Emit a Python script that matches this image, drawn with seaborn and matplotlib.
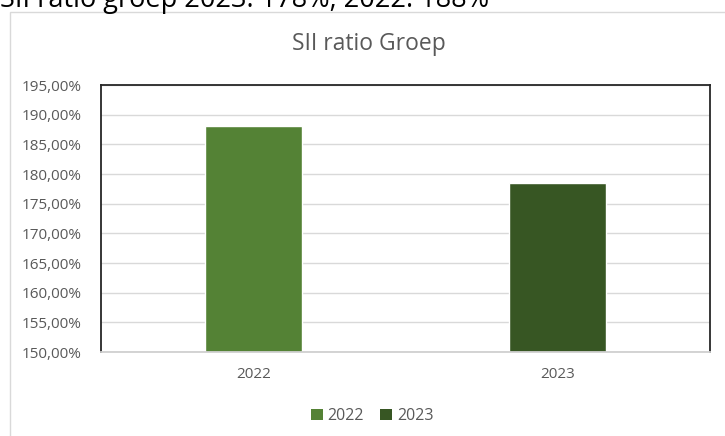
import matplotlib
matplotlib.use("Agg")
import matplotlib.pyplot as plt
import seaborn as sns
import pandas as pd
from matplotlib.patches import Rectangle, Patch
from matplotlib.ticker import FuncFormatter

years = ["2022", "2023"]
values = [188.1, 178.4]
colors = ["#548235", "#375623"]
title = "SII ratio Groep"
heading = "SII ratio groep 2023: 178%, 2022: 188%"
yticks = [150, 155, 160, 165, 170, 175, 180, 185, 190, 195]

sns.set_theme(style="white")
plt.rcParams["font.family"] = ["Open Sans", "DejaVu Sans"]

W, H = 725, 436
fig = plt.figure(figsize=(W / 100, H / 100), dpi=100)
ax = fig.add_axes([101 / W, 1 - 352 / H, (710 - 101) / W, (352 - 85) / H])

df = pd.DataFrame({"year": years, "value": values})
sns.barplot(data=df, x="year", y="value", hue="year", palette=colors,
            dodge=False, width=0.32, ax=ax, legend=False, saturation=1)

ax.set_ylim(150, 195)
ax.set_yticks(yticks)
ax.yaxis.set_major_formatter(FuncFormatter(lambda v, p: f"{v:.2f}%".replace(".", ",")))
ax.grid(axis="y", color="#d9d9d9", linewidth=1)
ax.set_axisbelow(True)
ax.set_xlabel("")
ax.set_ylabel("")
for s in ["top", "left", "right"]:
    ax.spines[s].set_color("#262626")
    ax.spines[s].set_linewidth(1.3)
ax.spines["bottom"].set_color("#d0d0d0")
ax.spines["bottom"].set_linewidth(1.3)
ax.tick_params(axis="y", length=0, pad=14, labelsize=11, labelcolor="#595959")
ax.tick_params(axis="x", length=0, pad=11, labelsize=11, labelcolor="#595959")

# chart outer border
fig.patches.append(Rectangle((10 / W, -0.1), 1.2, 1 - 12 / H + 0.1,
                             transform=fig.transFigure, fill=False,
                             edgecolor="#d9d9d9", linewidth=1))

fig.text(369 / W, 1 - 44 / H, title, ha="center", va="center",
         fontsize=16.5, color="#595959")
fig.text(0 / W, 1 - 7 / H, heading, ha="left", va="baseline",
         fontsize=19.5, color="#000000")

# legend
handles = [Patch(facecolor=c, edgecolor="none", label=y) for c, y in zip(colors, years)]
fig.legend(handles=handles, loc="center", bbox_to_anchor=(372 / W, 1 - 416 / H),
           ncol=2, frameon=False, fontsize=11.5, handlelength=0.75, handleheight=0.75,
           handletextpad=0.3, columnspacing=1.0, labelcolor="#595959")

fig.savefig("out.png", dpi=100)
